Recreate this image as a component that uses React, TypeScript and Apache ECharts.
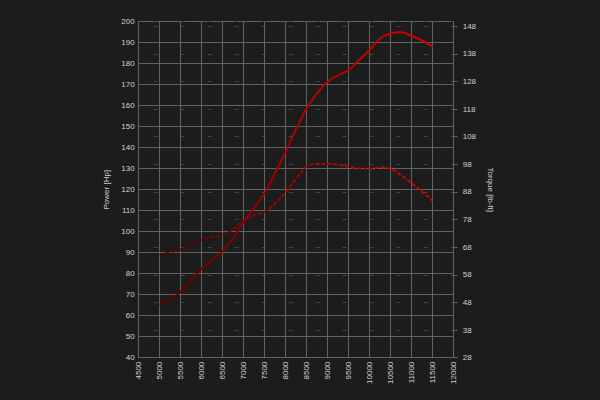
import React, { useEffect, useRef } from "react";
import * as echarts from "echarts";

const rpm = [5000, 5250, 5500, 5750, 6000, 6250, 6500, 6750, 7000, 7250, 7500, 7750, 8000, 8250, 8500, 8750, 9000, 9250, 9500, 9750, 10000, 10250, 10500, 10750, 11000, 11250, 11500];
const powerHp = [65.1, 68, 71.4, 77, 82.6, 86.5, 90.8, 97, 104.8, 111.5, 118.3, 128, 138, 149, 158.8, 166, 171.4, 174.5, 177, 181.8, 186.5, 192.1, 194.5, 195, 193.2, 191, 188.1];
const torqueLbFt = [65.2, 66.2, 67.2, 69, 70.6, 71.7, 72.4, 74.5, 77.8, 79.5, 80.8, 83.9, 88, 92.9, 97.1, 98.2, 98.2, 97.8, 97.1, 96.5, 96.4, 96.9, 96.3, 94.1, 91.1, 88, 84.8];

const labelColor = "#d0d0d0";
const gridColor = "#626262";
const font = "Liberation Sans, Arial, sans-serif";

export default function App() {
  const ref = useRef<HTMLDivElement>(null);
  useEffect(() => {
    if (!ref.current) return;
    const chart = echarts.init(ref.current, undefined, { renderer: "svg" });
    const grad = () =>
      new echarts.graphic.LinearGradient(0, 0, 1, 0, [
        { offset: 0, color: "#5a0000" },
        { offset: 0.5, color: "#b00000" },
        { offset: 1, color: "#d40000" },
      ]);
    chart.setOption({
      animation: false,
      backgroundColor: "#1c1c1c",
      grid: { left: 138.7, top: 21.7, right: 146.3, bottom: 42.3, containLabel: false },
      xAxis: {
        type: "value",
        min: 4500,
        max: 12000,
        interval: 500,
        axisLine: { show: true, lineStyle: { color: gridColor } },
        axisTick: { show: false },
        axisLabel: {
          rotate: 90,
          margin: 4,
          color: labelColor,
          fontSize: 8,
          fontFamily: font,
          formatter: (v: number) => String(v),
        },
        splitLine: { show: true, lineStyle: { color: gridColor, width: 1 } },
      },
      yAxis: [
        {
          type: "value",
          min: 40,
          max: 200,
          interval: 10,
          name: "Power [Hp]",
          nameLocation: "middle",
          nameRotate: 90,
          nameGap: 27,
          nameTextStyle: { color: labelColor, fontSize: 8, fontFamily: font },
          axisLine: { show: true, lineStyle: { color: gridColor } },
          axisTick: { show: false },
          axisLabel: { margin: 4, color: labelColor, fontSize: 8, fontFamily: font },
          splitLine: { show: true, lineStyle: { color: gridColor, width: 1 } },
        },
        {
          type: "value",
          position: "right",
          min: 28,
          max: 149.6,
          interval: 10,
          name: "Torque [lb-ft]",
          nameLocation: "middle",
          nameRotate: -90,
          nameGap: 29,
          nameTextStyle: { color: labelColor, fontSize: 8, fontFamily: font },
          axisLine: { show: true, lineStyle: { color: gridColor } },
          axisTick: { show: true, length: 4, inside: false, lineStyle: { color: gridColor } },
          axisLabel: { margin: 9, color: labelColor, fontSize: 8, fontFamily: font, showMaxLabel: false },
          splitLine: {
            show: true,
            lineStyle: { color: "#454545", width: 1, type: [4, 23], dashOffset: 11.7 },
          },
        },
      ],
      series: [
        {
          type: "line",
          yAxisIndex: 0,
          data: rpm.map((r, i) => [r, powerHp[i]]),
          smooth: 0.4,
          showSymbol: false,
          lineStyle: { width: 2, color: grad() },
        },
        {
          type: "line",
          yAxisIndex: 1,
          data: rpm.map((r, i) => [r, torqueLbFt[i]]),
          smooth: 0.4,
          showSymbol: false,
          lineStyle: { width: 2, type: [4, 2], color: grad() },
        },
      ],
    });
    return () => chart.dispose();
  }, []);
  return <div ref={ref} style={{ width: 600, height: 400, position: "fixed", left: 0, top: 0 }} />;
}
